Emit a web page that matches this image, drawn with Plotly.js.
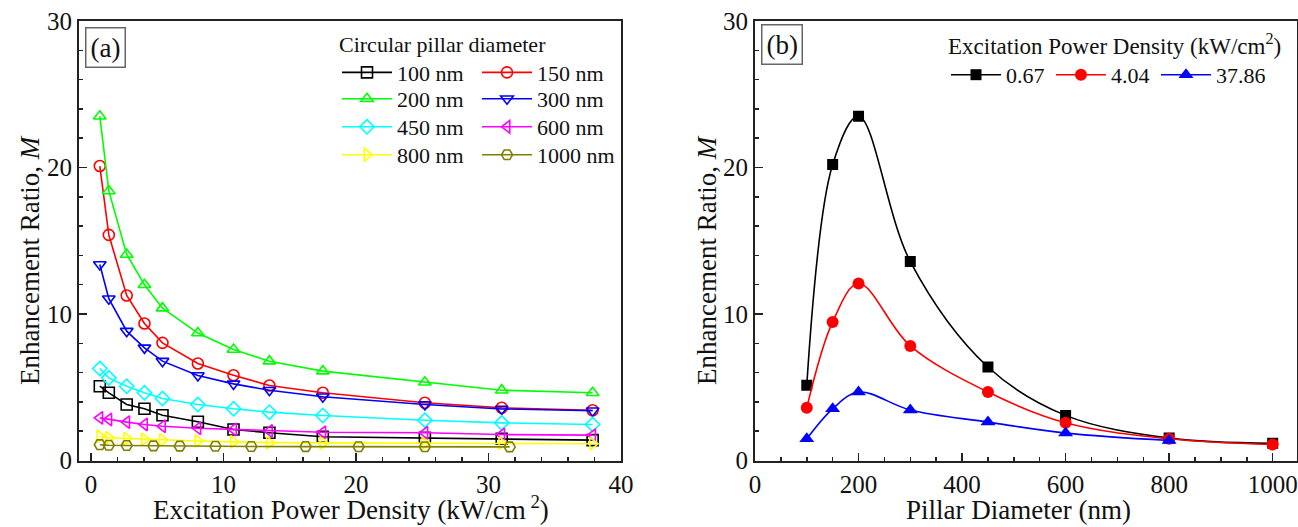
<!DOCTYPE html>
<html><head><meta charset="utf-8">
<script src="https://cdn.plot.ly/plotly-3.0.1.min.js"></script>
<style>html,body{margin:0;padding:0;background:#fff;} #chart{width:1298px;height:527px;}</style>
</head><body><div id="chart"></div>
<script>
// ---------- Data: panel (a) ----------
const powerDensity = [0.67, 1.35, 2.70, 4.04, 5.40, 8.07, 10.76, 13.47, 17.50, 25.20, 31.00, 37.86];
const powerDensity1000 = [0.67, 1.35, 2.70, 4.72, 6.70, 9.40, 12.10, 16.20, 20.20, 25.20, 31.60];
const m100nm  = [5.07, 4.62, 3.82, 3.53, 3.09, 2.64, 2.12, 1.89, 1.62, 1.55, 1.48, 1.39];
const m150nm  = [20.1, 15.4, 11.26, 9.35, 8.03, 6.62, 5.82, 5.12, 4.62, 3.94, 3.60, 3.43];
const m200nm  = [23.5, 18.4, 14.06, 12.0, 10.4, 8.70, 7.58, 6.78, 6.10, 5.34, 4.80, 4.62];
const m300nm  = [13.38, 11.04, 8.83, 7.69, 6.78, 5.80, 5.23, 4.80, 4.35, 3.82, 3.52, 3.40];
const m450nm  = [6.28, 5.64, 5.07, 4.62, 4.23, 3.82, 3.53, 3.30, 3.07, 2.75, 2.57, 2.46];
const m600nm  = [2.91, 2.80, 2.62, 2.46, 2.34, 2.20, 2.12, 2.02, 1.93, 1.89, 1.77, 1.73];
const m800nm  = [1.65, 1.55, 1.50, 1.45, 1.40, 1.33, 1.27, 1.22, 1.20, 1.18, 1.17, 1.14];
const m1000nm = [1.08, 1.04, 1.02, 1.00, 0.98, 0.97, 0.96, 0.95, 0.94, 0.94, 0.93];
const diameterLabels = ['100 nm','150 nm','200 nm','300 nm','450 nm','600 nm','800 nm','1000 nm'];

// ---------- Data: panel (b) ----------
const pillarDiameter = [100, 150, 200, 300, 450, 600, 800, 1000];
const pillarDiameterB = [100, 150, 200, 300, 450, 600, 800];
const mAt067  = [5.13, 20.2, 23.5, 13.58, 6.38, 3.08, 1.53, 1.18];
const mAt404  = [3.60, 9.46, 12.08, 7.82, 4.67, 2.57, 1.48, 1.09];
const mAt3786 = [1.48, 3.53, 4.67, 3.45, 2.62, 1.87, 1.37];
const powerLabels = ['0.67', '4.04', '37.86'];

const W = 1298, H = 527;
const px = x => x / W;
const py = y => 1 - y / H;
const FONT = 'Liberation Serif';

const seriesA = [
  {x: powerDensity, y: m100nm, color: '#000000', symbol: 'square-open', legend: 'legend'},
  {x: powerDensity, y: m150nm, color: '#ff0000', symbol: 'circle-open', legend: 'legend'},
  {x: powerDensity, y: m200nm, color: '#00ff00', symbol: 'triangle-up-open', legend: 'legend2'},
  {x: powerDensity, y: m300nm, color: '#0000ff', symbol: 'triangle-down-open', legend: 'legend2'},
  {x: powerDensity, y: m450nm, color: '#00ffff', symbol: 'diamond-open', legend: 'legend3'},
  {x: powerDensity, y: m600nm, color: '#ff00ff', symbol: 'triangle-left-open', legend: 'legend3'},
  {x: powerDensity, y: m800nm, color: '#ffff00', symbol: 'triangle-right-open', legend: 'legend4'},
  {x: powerDensity1000, y: m1000nm, color: '#808000', symbol: 'hexagon2-open', legend: 'legend4'}
];

const traces = [];
seriesA.forEach((s, i) => {
  traces.push({
    type: 'scatter', mode: 'lines+markers', x: s.x, y: s.y, name: diameterLabels[i],
    xaxis: 'x', yaxis: 'y', legend: s.legend,
    line: {color: s.color, width: 1.6},
    marker: {symbol: s.symbol, size: 11, color: s.color, line: {color: s.color, width: 1.6}}
  });
});

const seriesB = [
  {x: pillarDiameter, y: mAt067, color: '#000000', symbol: 'square', size: 11},
  {x: pillarDiameter, y: mAt404, color: '#ff0000', symbol: 'circle', size: 12},
  {x: pillarDiameterB, y: mAt3786, color: '#0000ff', symbol: 'triangle-up', size: 13}
];
seriesB.forEach((s, i) => {
  traces.push({
    type: 'scatter', mode: 'lines+markers', x: s.x, y: s.y, name: powerLabels[i],
    xaxis: 'x2', yaxis: 'y2', legend: 'legend5',
    line: {color: s.color, width: 1.6, shape: 'spline', smoothing: 1},
    marker: {symbol: s.symbol, size: s.size, color: s.color}
  });
});

const minorTicks = d => ({ticks: 'inside', ticklen: 4, tickwidth: 1.5, tickcolor: '#222', dtick: d});
const axisBase = {
  showline: true, linewidth: 2, linecolor: '#222', mirror: true,
  ticks: 'inside', ticklen: 8, tickwidth: 1.5, tickcolor: '#222',
  showgrid: false, zeroline: false,
  tickfont: {family: FONT, size: 25, color: '#111'}
};
const titleFont = {family: FONT, size: 27, color: '#111'};

const yDom = [py(460.5), py(21)];
const ann = (text, x, y, extra) => Object.assign({
  text: text, xref: 'paper', yref: 'paper', x: px(x), y: py(y), xanchor: 'center', yanchor: 'middle',
  showarrow: false, font: titleFont
}, extra || {});

const layout = {
  width: W, height: H,
  margin: {l: 0, r: 0, t: 0, b: 0},
  paper_bgcolor: '#fff', plot_bgcolor: '#fff',
  font: {family: FONT, color: '#111'},
  showlegend: true,
  xaxis: Object.assign({}, axisBase, {
    domain: [px(79), px(621)], range: [-0.9, 40], dtick: 10, tick0: 0, anchor: 'y', minor: minorTicks(2)
  }),
  yaxis: Object.assign({}, axisBase, {
    domain: yDom, range: [0, 30], dtick: 10, anchor: 'x', minor: minorTicks(2)
  }),
  xaxis2: Object.assign({}, axisBase, {
    domain: [px(755), px(1297)], range: [0, 1047], dtick: 200, tick0: 0, anchor: 'y2', minor: minorTicks(50)
  }),
  yaxis2: Object.assign({}, axisBase, {
    domain: yDom, range: [0, 30], dtick: 10, anchor: 'x2', minor: minorTicks(2)
  }),
  annotations: [
    ann('Excitation Power Density (kW/cm<sup> 2</sup>)', 351, 508),
    ann('Pillar Diameter (nm)', 1018, 510),
    ann('Enhancement Ratio, <i>M</i>', 30, 260, {textangle: -90}),
    ann('Enhancement Ratio, <i>M</i>', 707, 260, {textangle: -90}),
    ann('(a)', 106, 47.5, {font: {family: FONT, size: 27, color: '#111'}, bordercolor: '#666', borderwidth: 1.5, borderpad: 4}),
    ann('(b)', 782, 44.5, {font: {family: FONT, size: 27, color: '#111'}, bordercolor: '#666', borderwidth: 1.5, borderpad: 4})
  ]
};

const legendBase = {
  orientation: 'h', xref: 'paper', yref: 'paper', xanchor: 'left', yanchor: 'top',
  bgcolor: 'rgba(0,0,0,0)', borderwidth: 0,
  font: {family: FONT, size: 22, color: '#111'},
  itemwidth: 50, entrywidthmode: 'pixels', entrywidth: 75, traceorder: 'normal'
};
layout.legend = Object.assign({}, legendBase, {
  x: px(337), y: py(23),
  title: {text: 'Circular pillar diameter', side: 'top', font: {family: FONT, size: 22, color: '#111'}}
});
layout.legend2 = Object.assign({}, legendBase, {x: px(337), y: py(78)});
layout.legend3 = Object.assign({}, legendBase, {x: px(337), y: py(106)});
layout.legend4 = Object.assign({}, legendBase, {x: px(337), y: py(134)});
layout.legend5 = Object.assign({}, legendBase, {
  x: px(946), y: py(24), entrywidth: 40,
  title: {text: 'Excitation Power Density (kW/cm<sup>2</sup>)', side: 'top', font: {family: FONT, size: 23, color: '#111'}}
});

Plotly.newPlot('chart', traces, layout, {staticPlot: true, displayModeBar: false});
</script>
</body></html>
